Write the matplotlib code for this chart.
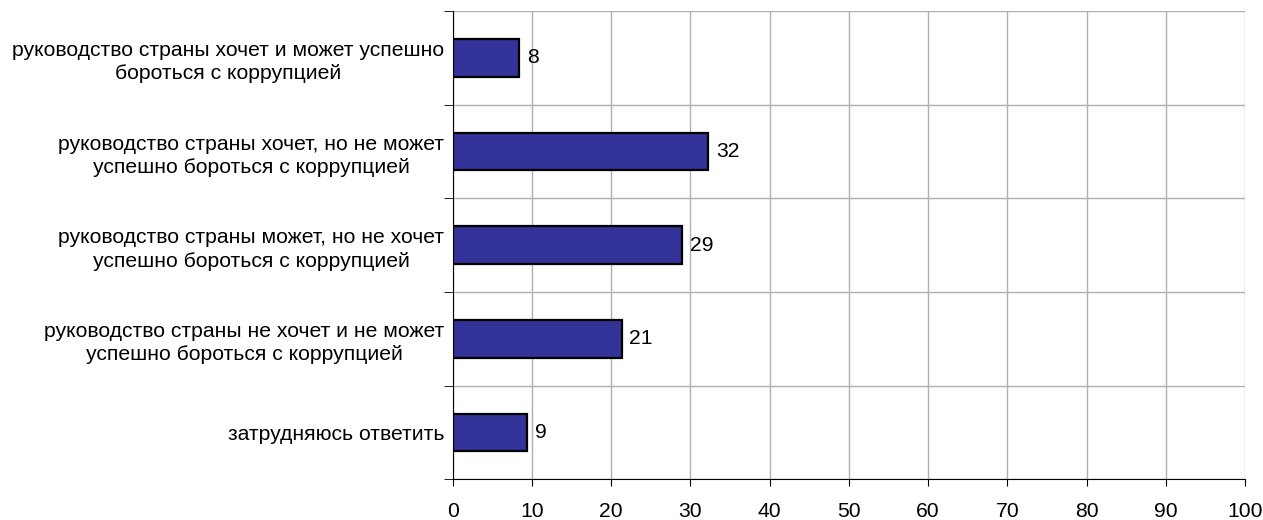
import matplotlib
matplotlib.use("Agg")
import matplotlib.pyplot as plt

plt.rcParams['font.family'] = ['Liberation Sans', 'DejaVu Sans']

# ответы (сверху вниз)
categories = [
    "руководство страны хочет и может успешно\nбороться с коррупцией",
    "руководство страны хочет, но не может\nуспешно бороться с коррупцией",
    "руководство страны может, но не хочет\nуспешно бороться с коррупцией",
    "руководство страны не хочет и не может\nуспешно бороться с коррупцией",
    "затрудняюсь ответить",
]
values = [8.4, 32.2, 28.9, 21.3, 9.4]
labels = ["8", "32", "29", "21", "9"]
xticks = [0, 10, 20, 30, 40, 50, 60, 70, 80, 90, 100]

fig = plt.figure(figsize=(12.63, 5.2), dpi=100)
ax = fig.add_axes([0.3585, 0.0783, 0.6272, 0.9005])

pos = list(range(len(categories)))
ax.barh(pos, values, height=0.4, color="#333399", edgecolor="black", linewidth=1.6, zorder=3)
for p, v, t in zip(pos, values, labels):
    ax.text(v + 1.0, p, t, va="center", ha="left", fontsize=15.2)

ax.set_xlim(0, 100)
ax.set_ylim(len(categories) - 0.5, -0.5)
ax.set_xticks(xticks)
ax.set_xticklabels([str(x) for x in xticks], fontsize=15.2)

# подписи категорий, деления на границах
ax.set_yticks(pos)
ax.set_yticklabels(categories, fontsize=15.2, ha="right", multialignment="center",
                   linespacing=1.3)
ax.tick_params(axis="y", length=0, pad=6)
ax.set_yticks([p - 0.5 for p in pos] + [len(pos) - 0.5], minor=True)
ax.tick_params(axis="y", which="minor", length=6.5, direction="out", color="black")
ax.tick_params(axis="x", length=5, direction="out", pad=11)

ax.grid(True, axis="x", color="#b0b0b0", linewidth=1, zorder=0)
ax.grid(True, axis="y", which="minor", color="#b0b0b0", linewidth=1, zorder=0)
for s in ["top", "right"]:
    ax.spines[s].set_visible(False)
ax.spines["left"].set_color("black")
ax.spines["bottom"].set_color("black")
ax.spines["left"].set_zorder(4)

plt.savefig("out.png", dpi=100)
